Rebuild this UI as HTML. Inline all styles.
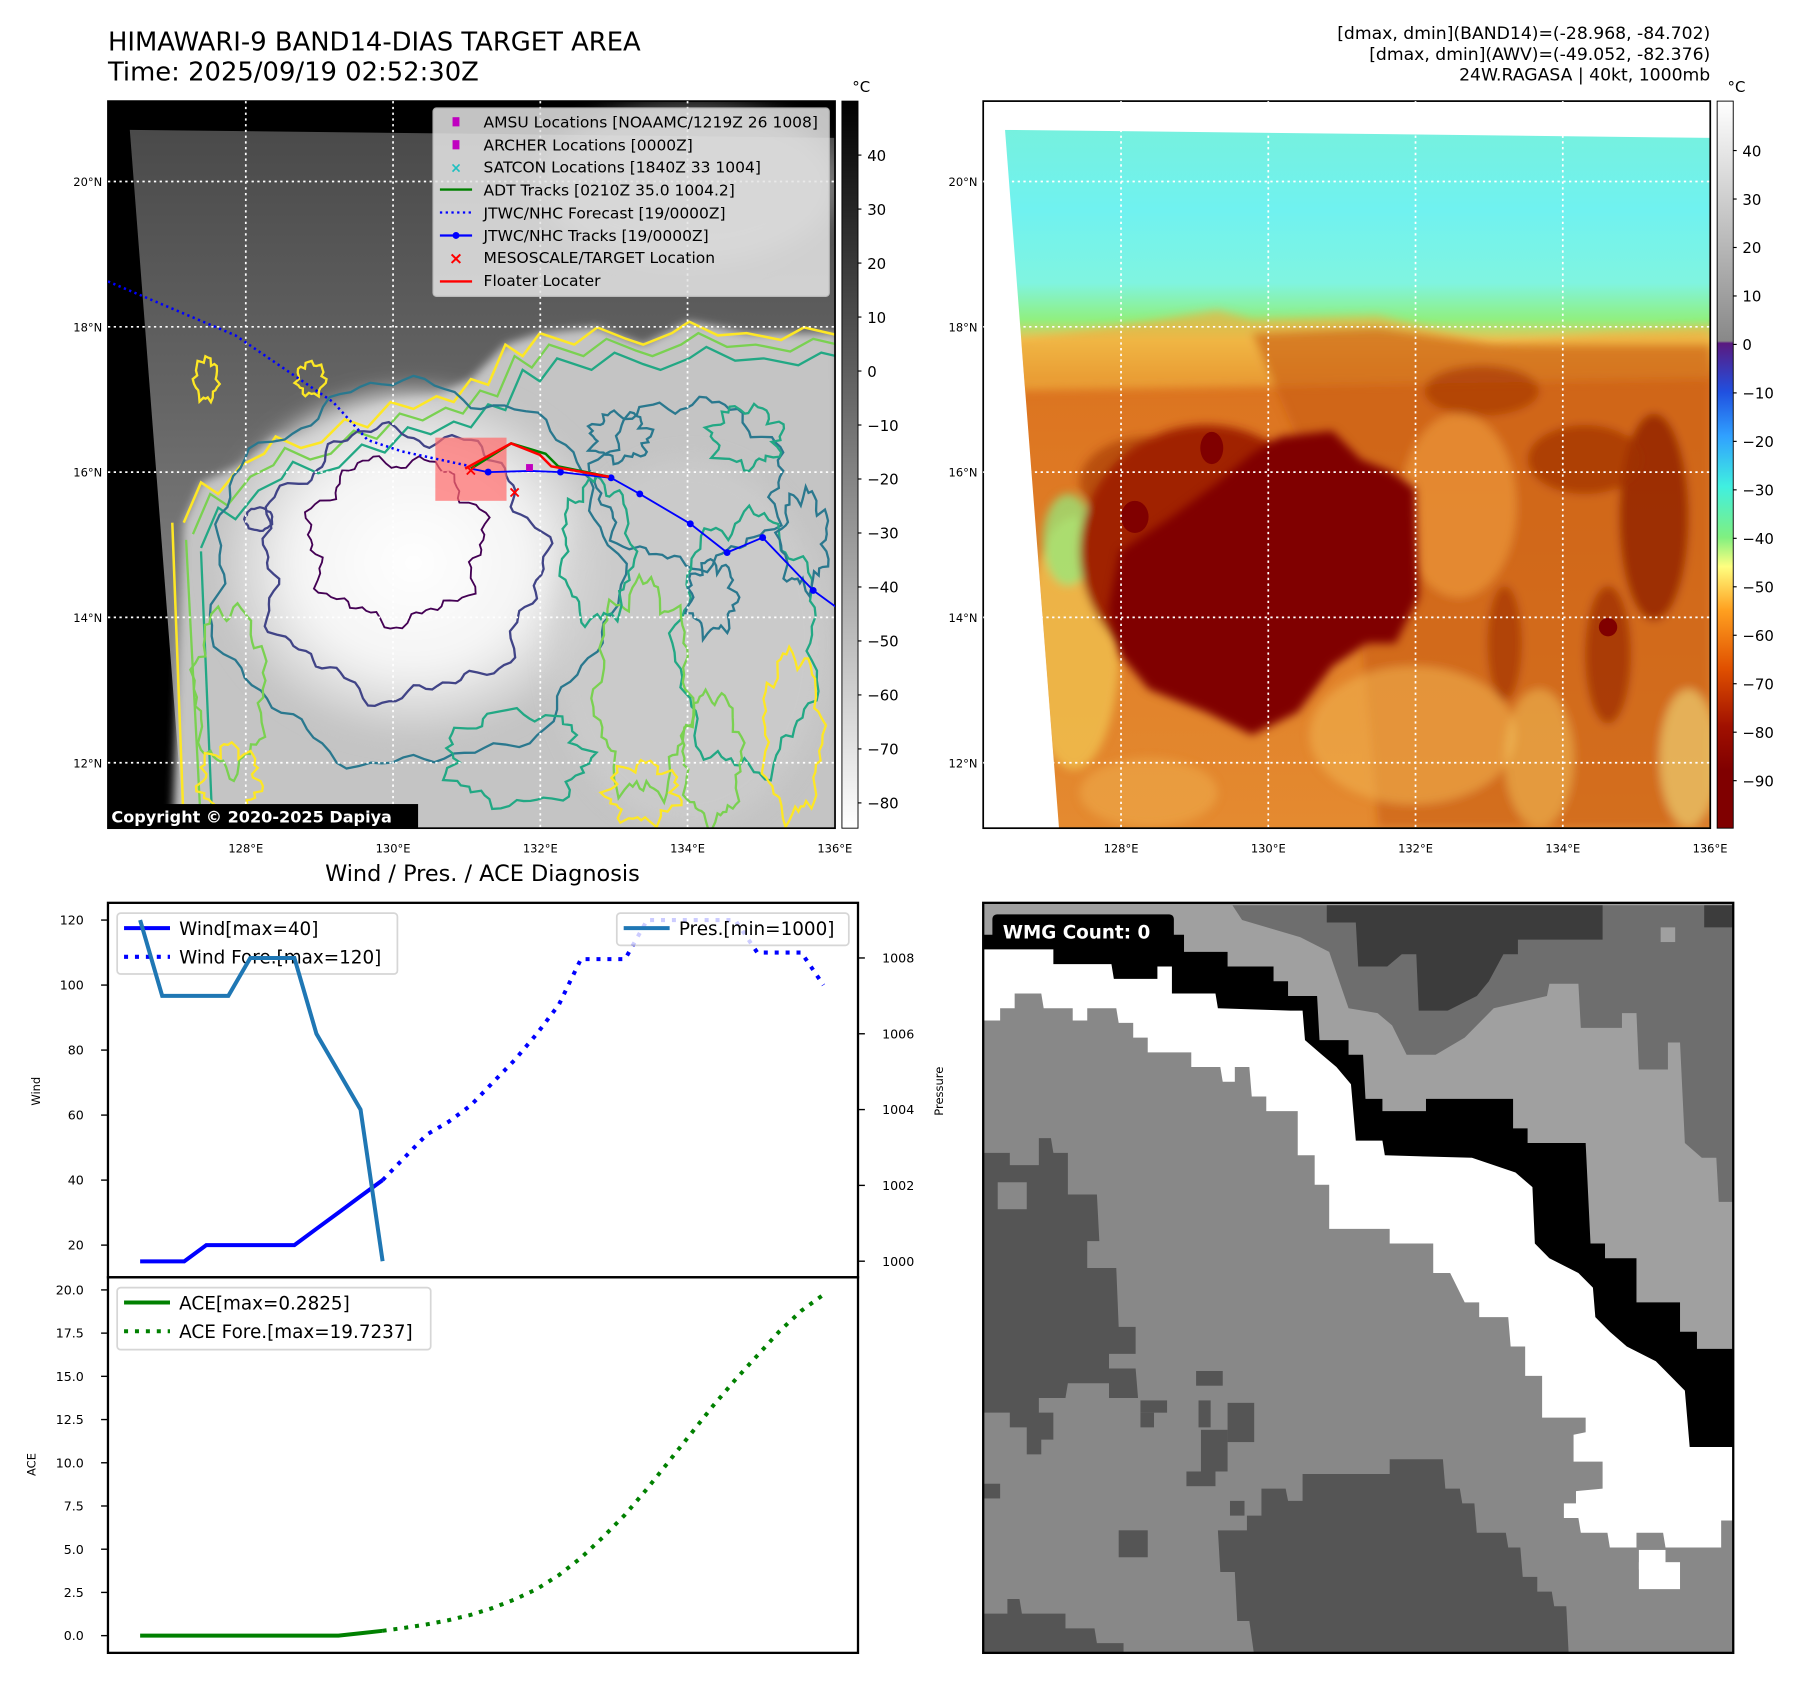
<!DOCTYPE html>
<html><head><meta charset="utf-8"><style>
html,body{margin:0;padding:0;background:#fff;}
svg{display:block;font-family:"DejaVu Sans","Liberation Sans",sans-serif;}
</style></head><body>
<svg id="root" width="1801" height="1690" viewBox="0 0 1568 1471.3" xmlns="http://www.w3.org/2000/svg">
<defs>
<linearGradient id="gcb1" x1="0" y1="0" x2="0" y2="1"><stop offset="0" stop-color="#000"/><stop offset="1" stop-color="#fff"/></linearGradient>
<linearGradient id="gcb2" x1="0" y1="0" x2="0" y2="1">
<stop offset="0" stop-color="#ffffff"/><stop offset="0.33" stop-color="#888"/><stop offset="0.333" stop-color="#5a1a80"/><stop offset="0.40" stop-color="#2050e0"/><stop offset="0.46" stop-color="#30a0ff"/><stop offset="0.53" stop-color="#40f0e0"/><stop offset="0.6" stop-color="#80f080"/><stop offset="0.64" stop-color="#ffff80"/><stop offset="0.7" stop-color="#ffa020"/><stop offset="0.78" stop-color="#e05000"/><stop offset="0.86" stop-color="#a01000"/><stop offset="0.92" stop-color="#800000"/><stop offset="1" stop-color="#800000"/></linearGradient>
<linearGradient id="gir" x1="0" y1="0" x2="0" y2="1"><stop offset="0" stop-color="#4a4a4a"/><stop offset="0.4" stop-color="#666"/><stop offset="1" stop-color="#999"/></linearGradient>
<linearGradient id="gcol" x1="0" y1="0" x2="0" y2="1"><stop offset="0" stop-color="#78f0d8"/><stop offset="0.15" stop-color="#70f2f0"/><stop offset="0.25" stop-color="#80f4e0"/><stop offset="0.3" stop-color="#90f080"/><stop offset="0.33" stop-color="#f0c050"/><stop offset="0.38" stop-color="#dc7420"/><stop offset="1" stop-color="#e48a30"/></linearGradient>
<radialGradient id="gcore" cx="0.5" cy="0.5" r="0.5"><stop offset="0" stop-color="#fff"/><stop offset="0.6" stop-color="#f4f4f4"/><stop offset="1" stop-color="#c8c8c8"/></radialGradient>
<filter id="blur4"><feGaussianBlur stdDeviation="4"/></filter>
<filter id="blur10"><feGaussianBlur stdDeviation="10"/></filter>
<clipPath id="clipL"><rect x="94" y="88" width="633" height="633"/></clipPath>
<clipPath id="clipR"><polygon points="875,113 1489,120 1489,721 922,721"/></clipPath>
<clipPath id="clipW"><rect x="856" y="786" width="653" height="653"/></clipPath>
<clipPath id="clipWind"><rect x="94" y="786" width="653" height="326"/></clipPath>
</defs>

<text x="94" y="44" font-size="22.5">HIMAWARI-9 BAND14-DIAS TARGET AREA</text>
<text x="94" y="70" font-size="22.5">Time: 2025/09/19 02:52:30Z</text>
<text x="1489" y="34" font-size="15" text-anchor="end">[dmax, dmin](BAND14)=(-28.968, -84.702)</text>
<text x="1489" y="52" font-size="15" text-anchor="end">[dmax, dmin](AWV)=(-49.052, -82.376)</text>
<text x="1489" y="70" font-size="15" text-anchor="end">24W.RAGASA | 40kt, 1000mb</text>

<g id="leftmap">
<rect x="94" y="88" width="633" height="633" fill="#000"/>
<g clip-path="url(#clipL)">
<polygon points="113,113 727,120 727,721 160,721" fill="url(#gir)"/>
<ellipse cx="600" cy="160" rx="130" ry="70" fill="#bbb" opacity="0.5" filter="url(#blur10)"/>
<path d="M160,455 L175,420 L210,405 L240,380 L280,385 L300,365 L340,350 L380,345 L410,330 L440,300 L470,290 L520,285 L560,300 L600,280 L650,290 L730,290 L730,730 L150,730 Z" fill="#c4c4c4" filter="url(#blur4)"/>
<ellipse cx="360" cy="490" rx="170" ry="150" fill="url(#gcore)" filter="url(#blur10)"/>
<ellipse cx="600" cy="560" rx="120" ry="160" fill="#cfcfcf" opacity="0.6" filter="url(#blur10)"/>
<g id="contours" fill="none" stroke-width="2"></g>
</g>
<rect x="94" y="88" width="633" height="633" fill="none" stroke="#000" stroke-width="1.5"/>
<g id="gridL" stroke="#fff" stroke-width="1.5" stroke-dasharray="2,3"></g>
<g clip-path="url(#clipL)">
<rect x="379" y="381" width="62" height="55" fill="#ff6a6a" opacity="0.7"/>
<polyline points="94,245 205,292 290,350 320,383 350,393 410,406" fill="none" stroke="#0000ff" stroke-width="2.2" stroke-dasharray="2,3"/>
<polyline points="410,408 425,411 462,410 488,411 532,416 557,430 601,456 633,481 664,468 708,514 730,530" fill="none" stroke="#0000ff" stroke-width="1.6"/>
<g fill="#0000ff"><circle cx="425" cy="411" r="3"/><circle cx="488" cy="411" r="3"/><circle cx="532" cy="416" r="3"/><circle cx="557" cy="430" r="3"/><circle cx="601" cy="456" r="3"/><circle cx="633" cy="481" r="3"/><circle cx="664" cy="468" r="3"/><circle cx="708" cy="514" r="3"/></g>
<polyline points="410,408 445,386 475,395 486,406 530,415" fill="none" stroke="#008000" stroke-width="2.2"/>
<polyline points="405,408 445,386 470,396 480,406 530,415" fill="none" stroke="#ff0000" stroke-width="2.2"/>
<rect x="458" y="404" width="6" height="6" fill="#c000c0"/>
<text x="448" y="433" font-size="14" fill="#ff0000" text-anchor="middle" font-weight="bold">×</text>
<text x="410" y="414" font-size="14" fill="#ff0000" text-anchor="middle" font-weight="bold">×</text>
</g>
<g>
<rect x="377" y="94" width="345" height="164" rx="3" fill="#e6e6e6" opacity="0.85" stroke="#ccc"/>
<rect x="394" y="102" width="6" height="8" fill="#c000c0"/>
<text x="421" y="111" font-size="13.5">AMSU Locations [NOAAMC/1219Z 26 1008]</text>
<rect x="394" y="122" width="6" height="8" fill="#c000c0"/>
<text x="421" y="131" font-size="13.5">ARCHER Locations [0000Z]</text>
<text x="397" y="150" font-size="12" fill="#20c0c0" text-anchor="middle" font-weight="bold">×</text>
<text x="421" y="150" font-size="13.5">SATCON Locations [1840Z 33 1004]</text>
<line x1="383" y1="165" x2="411" y2="165" stroke="#008000" stroke-width="2"/>
<text x="421" y="170" font-size="13.5">ADT Tracks [0210Z 35.0 1004.2]</text>
<line x1="383" y1="185" x2="411" y2="185" stroke="#0000ff" stroke-width="2" stroke-dasharray="2,3"/>
<text x="421" y="190" font-size="13.5">JTWC/NHC Forecast [19/0000Z]</text>
<line x1="383" y1="205" x2="411" y2="205" stroke="#0000ff" stroke-width="2"/><circle cx="397" cy="205" r="3" fill="#0000ff"/>
<text x="421" y="210" font-size="13.5">JTWC/NHC Tracks [19/0000Z]</text>
<text x="397" y="230" font-size="15" fill="#ff0000" text-anchor="middle" font-weight="bold">×</text>
<text x="421" y="229" font-size="13.5">MESOSCALE/TARGET Location</text>
<line x1="383" y1="245" x2="411" y2="245" stroke="#ff0000" stroke-width="2"/>
<text x="421" y="249" font-size="13.5">Floater Locater</text>
</g>
<rect x="94" y="700" width="270" height="21" fill="#000"/>
<text x="97" y="716" font-size="14" font-weight="bold" fill="#fff">Copyright © 2020-2025 Dapiya</text>
</g>
<g>
<rect x="733" y="88" width="14" height="633" fill="url(#gcb1)" stroke="#000" stroke-width="0.8"/>
<text x="742" y="80" font-size="13">°C</text>
<g id="cb1ticks" font-size="13"></g>
</g>

<g>
<g clip-path="url(#clipR)">
<rect x="856" y="88" width="633" height="633" fill="url(#gcol)"/>
<g filter="url(#blur4)">
<path d="M860,300 L930,290 L1000,280 L1060,270 L1090,278 L1200,275 L1300,300 L1400,290 L1489,285 L1489,330 L860,340Z" fill="#f0b040" opacity="0.7"/>
<path d="M1090,290 L1200,285 L1300,300 L1400,300 L1489,300 L1489,720 L1200,720 L1180,500Z" fill="#c85a10" opacity="0.6"/>
<ellipse cx="1440" cy="450" rx="30" ry="90" fill="#902000" opacity="0.8"/>
<ellipse cx="1380" cy="400" rx="50" ry="30" fill="#a03000" opacity="0.7"/>
<ellipse cx="1290" cy="340" rx="50" ry="22" fill="#a03000" opacity="0.6"/>
<ellipse cx="1400" cy="570" rx="20" ry="60" fill="#902000" opacity="0.6"/>
<ellipse cx="1310" cy="560" rx="15" ry="50" fill="#902000" opacity="0.5"/>
<ellipse cx="935" cy="560" rx="40" ry="110" fill="#f0c050" opacity="0.8"/>
<ellipse cx="930" cy="470" rx="22" ry="40" fill="#90f080" opacity="0.7"/>
<ellipse cx="1270" cy="440" rx="50" ry="80" fill="#f0a040" opacity="0.6"/>
<ellipse cx="1230" cy="640" rx="90" ry="60" fill="#f0b050" opacity="0.6"/>
<ellipse cx="1470" cy="660" rx="25" ry="60" fill="#f0e080" opacity="0.6"/>
<ellipse cx="1340" cy="660" rx="30" ry="60" fill="#f4c860" opacity="0.5"/>
<ellipse cx="1000" cy="690" rx="60" ry="30" fill="#f0b050" opacity="0.5"/>
<ellipse cx="1000" cy="420" rx="60" ry="40" fill="#a03000" opacity="0.6"/>
<ellipse cx="1050" cy="480" rx="110" ry="110" fill="#a02000"/>
</g>
<path d="M1115,380 L1160,375 L1185,400 L1210,410 L1232,425 L1235,520 L1215,560 L1190,560 L1160,580 L1130,620 L1090,640 L1050,620 L1000,600 L975,570 L965,530 L975,480 L1020,450 L1060,420 L1090,395Z" fill="#800000" filter="url(#blur4)"/>
<ellipse cx="988" cy="450" rx="12" ry="14" fill="#800000"/>
<ellipse cx="1055" cy="390" rx="10" ry="14" fill="#800000"/>
<ellipse cx="1400" cy="546" rx="8" ry="8" fill="#800000"/>
</g>
<rect x="856" y="88" width="633" height="633" fill="none" stroke="#000" stroke-width="1.5"/>
<g id="gridR" stroke="#fff" stroke-width="1.5" stroke-dasharray="2,3"></g>
</g>
<g>
<rect x="1495" y="88" width="14" height="633" fill="url(#gcb2)" stroke="#000" stroke-width="0.8"/>
<text x="1504" y="80" font-size="13">°C</text>
<g id="cb2ticks" font-size="13"></g>
</g>

<g>
<g clip-path="url(#clipW)">
<g transform="translate(856,786) scale(0.4213,0.4268) translate(-5,-25)">
<rect x="0" y="0" width="1600" height="1600" fill="#888"/>
<polygon fill="#fff" points="5,25 1555,25 1555,1285 1530,1285 1530,1340 1415,1340 1410,1310 1355,1310 1355,1340 1300,1340 1295,1310 1240,1310 1235,1280 1205,1280 1205,1250 1230,1250 1230,1225 1285,1220 1285,1165 1225,1165 1225,1110 1250,1105 1250,1075 1160,1075 1160,990 1125,990 1125,930 1095,930 1090,870 1030,870 1030,840 1000,840 970,780 935,780 935,720 845,720 845,690 720,690 720,600 690,600 690,540 655,540 655,450 590,450 590,420 560,420 555,360 525,360 525,390 500,390 495,360 435,360 435,330 345,330 345,300 315,300 315,270 285,270 280,240 220,240 220,265 190,265 190,240 130,240 125,210 70,210 70,240 40,240 40,265 5,265"/>
<rect x="1360" y="1345" width="55" height="40" fill="#fff"/><rect x="1360" y="1370" width="85" height="55" fill="#fff"/>
<polygon fill="#000" points="5,25 1555,25 1555,1135 1465,1135 1455,1020 1425,990 1395,960 1335,930 1300,900 1270,870 1265,810 1235,780 1175,750 1145,720 1140,605 1105,575 1015,545 835,540 830,510 775,510 765,395 735,360 705,335 670,305 665,245 640,245 490,240 485,210 395,210 395,155 365,155 365,180 275,180 270,150 150,150 150,120 5,120"/>
<polygon fill="#a0a0a0" points="5,25 1555,25 1555,935 1480,935 1480,900 1445,900 1445,840 1355,840 1355,750 1290,750 1290,720 1260,720 1250,515 1130,515 1130,485 1100,485 1100,425 920,425 920,450 830,450 830,425 795,425 790,335 760,335 760,305 700,305 695,215 635,215 635,185 605,185 605,155 510,155 510,125 420,125 420,90 30,90 5,90"/>
<polygon fill="#6e6e6e" points="520,30 1555,30 1555,635 1525,635 1520,545 1490,545 1455,515 1445,310 1420,310 1420,365 1360,365 1355,250 1325,250 1325,280 1240,280 1235,190 1175,190 1170,215 1060,240 1000,300 940,335 880,335 850,275 820,250 760,240 720,125 660,95 540,60"/>
<polygon fill="#3c3c3c" points="715,30 1285,30 1285,100 1110,100 1110,130 1080,130 1050,185 1025,215 965,245 905,245 900,130 870,130 840,155 780,155 775,65 715,65"/>
<rect x="1495" y="30" width="60" height="45" fill="#3c3c3c"/><rect x="1405" y="75" width="30" height="30" fill="#a0a0a0"/>
<g fill="#555">
<polygon points="5,535 60,535 60,560 120,560 120,505 145,505 150,535 180,535 180,620 240,620 245,715 220,715 220,770 280,770 285,890 320,890 320,945 265,945 265,975 320,975 325,1035 265,1035 265,1005 180,1005 175,1035 120,1035 120,1065 150,1065 150,1120 125,1120 125,1150 95,1150 95,1095 60,1095 60,1065 5,1065"/>
<polygon points="490,1305 550,1305 550,1275 580,1275 580,1220 630,1220 635,1245 665,1245 665,1190 845,1190 845,1160 955,1160 960,1220 990,1220 995,1250 1020,1250 1025,1310 1085,1310 1090,1340 1115,1340 1120,1400 1150,1400 1150,1430 1180,1430 1185,1460 1210,1460 1215,1560 565,1560 555,1490 530,1490 525,1390 495,1390"/>
<polygon points="5,1475 55,1475 55,1445 80,1445 85,1475 175,1475 175,1505 235,1505 240,1535 295,1535 295,1560 5,1560"/>
<rect x="445" y="980" width="55" height="30"/><rect x="330" y="1040" width="55" height="25"/><rect x="330" y="1065" width="28" height="30"/><rect x="450" y="1040" width="25" height="55"/><rect x="510" y="1045" width="55" height="80"/><rect x="455" y="1100" width="55" height="85"/><rect x="425" y="1185" width="60" height="30"/><rect x="285" y="1305" width="60" height="55"/><rect x="5" y="1210" width="35" height="30"/><rect x="515" y="1245" width="30" height="30"/>
</g>
<rect x="35" y="595" width="60" height="55" fill="#888"/>
</g>
</g>
<rect x="856" y="786" width="653" height="653" fill="none" stroke="#000" stroke-width="2"/>
<rect x="864" y="796" width="158" height="30" rx="4" fill="#000"/>
<text x="873" y="817" font-size="16" font-weight="bold" fill="#fff">WMG Count: 0</text>
</g>

<text x="420" y="767" font-size="19.5" text-anchor="middle">Wind / Pres. / ACE Diagnosis</text>
<g id="chart"></g>
</svg>
<script>
const windObs = [15,15,15,20,20,20,20,20,25,30,35,40];
const windFcst = [40,47,54,58,63,70,77,85,94,108,108,108,120,120,120,120,120,110,110,110,100];
const presObs = [1009,1007,1007,1007,1007,1008,1008,1008,1006,1005,1004,1000];
const aceObs = [0,0,0,0,0,0,0,0,0,0,0.14,0.28];
const aceFcst = [0.28,0.45,0.65,0.9,1.2,1.6,2.1,2.7,3.5,4.5,5.7,7.0,8.5,10.1,11.7,13.3,14.8,16.2,17.6,18.8,19.72];
const windTicks = [20,40,60,80,100,120];
const presTicks = [1000,1002,1004,1006,1008];
const aceTicks = [0,2.5,5,7.5,10,12.5,15,17.5,20];
const fcstStart = 11;
const mapLonTicks = [128,130,132,134,136];
const mapLatTicks = [12,14,16,18,20];
const cbIrTicks = [40,30,20,10,0,-10,-20,-30,-40,-50,-60,-70,-80];
const cbAwvTicks = [40,30,20,10,0,-10,-20,-30,-40,-50,-60,-70,-80,-90];

const NS = 'http://www.w3.org/2000/svg';
function mk(tag, attrs, parent){const e=document.createElementNS(NS,tag);for(const k in attrs)e.setAttribute(k,attrs[k]);parent.appendChild(e);return e;}
const xS = i => 122 + i*19.19;
const yW = v => 1084 - (v-20)*2.83;
const yP = p => 1098 - (p-1000)*33;
const yA = a => 1424 - a*15.05;
const chart = document.getElementById('chart');

let f1 = mk('rect',{x:94,y:786,width:653,height:326,fill:'none',stroke:'#000','stroke-width':2},chart);


let f2 = mk('rect',{x:94,y:1112,width:653,height:327,fill:'none',stroke:'#000','stroke-width':2},chart);



windTicks.forEach(v=>{
  const y=yW(v);
  mk('line',{x1:88,x2:94,y1:y,y2:y,stroke:'#000','stroke-width':1.2},chart);
  const t=mk('text',{x:73,y:y+4,'font-size':11,'text-anchor':'end'},chart);t.textContent=v;
  
  
});
presTicks.forEach(v=>{
  const y=yP(v);
  mk('line',{x1:747,x2:753,y1:y,y2:y,stroke:'#000','stroke-width':1.2},chart);
  const t=mk('text',{x:768,y:y+4,'font-size':11},chart);t.textContent=v;
  
  
});
aceTicks.forEach(v=>{
  const y=yA(v);
  mk('line',{x1:88,x2:94,y1:y,y2:y,stroke:'#000','stroke-width':1.2},chart);
  const t=mk('text',{x:73,y:y+4,'font-size':11,'text-anchor':'end'},chart);t.textContent=v.toFixed(1);
  
  
});
function vlabel(txt,x,y,name){const t=mk('text',{x:x,y:y,'font-size':10,'text-anchor':'middle',transform:`rotate(-90 ${x} ${y})`},chart);t.textContent=txt;
  
  }
vlabel('Wind',35,950,'wind-axis-title');
vlabel('Pressure',821,950,'pressure-axis-title');
vlabel('ACE',31,1275,'ace-axis-title');

function pts(arr,off,ys){return arr.map((v,i)=>xS(i+off).toFixed(1)+','+ys(v).toFixed(1)).join(' ');}
function legend(x,y,w,h,items,name){
  const g=mk('g',{},chart);
  
  
  mk('rect',{x:x,y:y,width:w,height:h,rx:3,fill:'#fff',opacity:0.8,stroke:'#ccc','stroke-width':1.5},g);
  items.forEach((it,k)=>{
    const yy=y+13+k*25;
    const a={x1:x+6,x2:x+46,y1:yy,y2:yy,stroke:it.c,'stroke-width':3.5};
    if(it.d)a['stroke-dasharray']='3.5,6';
    mk('line',a,g);
    const t=mk('text',{x:x+54,y:yy+6,'font-size':16},g);t.textContent=it.t;
  });
}
const gW = mk('g',{'clip-path':'url(#clipWind)'},chart);
let l;
l=mk('polyline',{points:pts(windFcst,fcstStart,yW),fill:'none',stroke:'#0000ff','stroke-width':3.5,'stroke-dasharray':'3.5,6'},gW);


l=mk('polyline',{points:pts(windObs,0,yW),fill:'none',stroke:'#0000ff','stroke-width':3.5},gW);


legend(102,795,244,53,[{c:'#0000ff',t:'Wind[max=40]'},{c:'#0000ff',d:1,t:'Wind Fore.[max=120]'}],'wind-legend');
const gP = mk('g',{'clip-path':'url(#clipWind)'},chart);
l=mk('polyline',{points:pts(presObs,0,yP),fill:'none',stroke:'#1f77b4','stroke-width':3.5},gP);


legend(537,795,202,28,[{c:'#1f77b4',t:'Pres.[min=1000]'}],'pressure-legend');
l=mk('polyline',{points:pts(aceFcst,fcstStart,yA),fill:'none',stroke:'#008000','stroke-width':3.5,'stroke-dasharray':'3.5,6'},chart);


l=mk('polyline',{points:pts(aceObs,0,yA),fill:'none',stroke:'#008000','stroke-width':3.5},chart);


legend(102,1121,273,54,[{c:'#008000',t:'ACE[max=0.2825]'},{c:'#008000',d:1,t:'ACE Fore.[max=19.7237]'}],'ace-legend');

const lonX = lon => 214 + (lon-128)*64.1;
const latY = lat => 158 + (20-lat)*63.25;
function grid(gid,dx){
  const g=document.getElementById(gid);
  mapLonTicks.forEach(lon=>{
    const x=lonX(lon)+dx;
    if(lon<136) mk('line',{x1:x,x2:x,y1:88,y2:721},g);
    const t=mk('text',{x:x,y:742,'font-size':10,'text-anchor':'middle',fill:'#000',stroke:'none'},g);t.textContent=lon+'°E';
    
    
  });
  mapLatTicks.forEach(lat=>{
    const y=latY(lat);
    mk('line',{x1:94+dx,x2:727+dx,y1:y,y2:y},g);
    const t=mk('text',{x:89+dx,y:y+4,'font-size':10,'text-anchor':'end',fill:'#000',stroke:'none'},g);t.textContent=lat+'°N';
    
    
  });
}
grid('gridL',0);grid('gridR',762);

function cbt(gid,ticks,x,y0,ppu,top){
  const g=document.getElementById(gid);
  ticks.forEach(v=>{
    const y=y0+(top-v)*ppu;
    mk('line',{x1:x-3,x2:x,y1:y,y2:y,stroke:'#000'},g);
    const t=mk('text',{x:x+5,y:y+5},g);t.textContent=(v<0?'\u2212'+(-v):v);
    
    
  });
}
cbt('cb1ticks',cbIrTicks,750,88,4.7,50);
cbt('cb2ticks',cbAwvTicks,1512,88,4.22,50.2);

const cg=document.getElementById('contours');
function wob(cx,cy,rx,ry,amp,seed,n){
  let d='';
  for(let k=0;k<=n;k++){
    const a=k/n*Math.PI*2;
    const r=1+amp*(Math.sin(a*7+seed)*0.5+Math.sin(a*13+seed*2)*0.3+Math.sin(a*29+seed*3)*0.2);
    const x=cx+rx*r*Math.cos(a), y=cy+ry*r*Math.sin(a);
    d+=(k?'L':'M')+x.toFixed(1)+','+y.toFixed(1);
  }
  return d+'Z';
}
function cpath(d,c,w){return mk('path',{d:d,stroke:c,'stroke-width':w||2,fill:'none'},cg);}
const outline='M160,455 L175,420 L190,430 L210,405 L230,395 L240,380 L262,390 L280,385 L300,365 L320,372 L340,350 L360,356 L380,345 L395,350 L410,330 L425,335 L440,300 L455,310 L470,290 L500,300 L520,285 L545,295 L560,300 L585,290 L600,280 L625,292 L650,290 L680,296 L700,285 L730,292';
cpath(outline,'#fde725',2.2);
cpath(outline,'#7ad151',2).setAttribute('transform','translate(8,10)');
cpath(outline,'#22a884',2).setAttribute('transform','translate(15,22)');
cpath('M150,455 L160,720','#fde725',2.2);
cpath('M162,470 L175,720','#7ad151',2);
cpath('M175,480 L185,720','#22a884',2);
cpath(wob(360,500,175,165,0.08,1,120),'#2a788e',2);
cpath(wob(350,490,120,115,0.12,2,140),'#414487',2);
cpath(wob(345,470,75,70,0.15,3,100),'#440154',1.6);
cpath(wob(600,420,80,70,0.15,4,90),'#2a788e',2);
cpath(wob(650,560,60,110,0.15,5,90),'#22a884',2);
cpath(wob(560,600,40,90,0.2,6,80),'#7ad151',2);
cpath(wob(520,480,30,60,0.2,7,60),'#22a884',2);
cpath(wob(690,640,25,70,0.2,8,60),'#fde725',2);
cpath(wob(620,660,25,55,0.2,9,60),'#7ad151',2);
cpath(wob(200,600,30,70,0.2,10,60),'#7ad151',2);
cpath(wob(225,452,12,10,0.1,11,30),'#414487',2);
cpath(wob(180,330,10,18,0.3,12,30),'#fde725',2);
cpath(wob(270,330,12,14,0.3,13,30),'#fde725',2);
cpath(wob(450,660,60,40,0.2,14,60),'#22a884',2);
cpath(wob(540,380,25,20,0.3,15,50),'#2a788e',2);
cpath(wob(650,380,30,25,0.3,16,50),'#22a884',2);
cpath(wob(700,470,20,40,0.3,17,50),'#2a788e',2);
cpath(wob(560,690,30,25,0.3,18,50),'#fde725',2);
cpath(wob(200,680,25,30,0.3,19,50),'#fde725',2);
cpath(wob(620,520,20,30,0.3,20,50),'#2a788e',2);
</script>
</body></html>
